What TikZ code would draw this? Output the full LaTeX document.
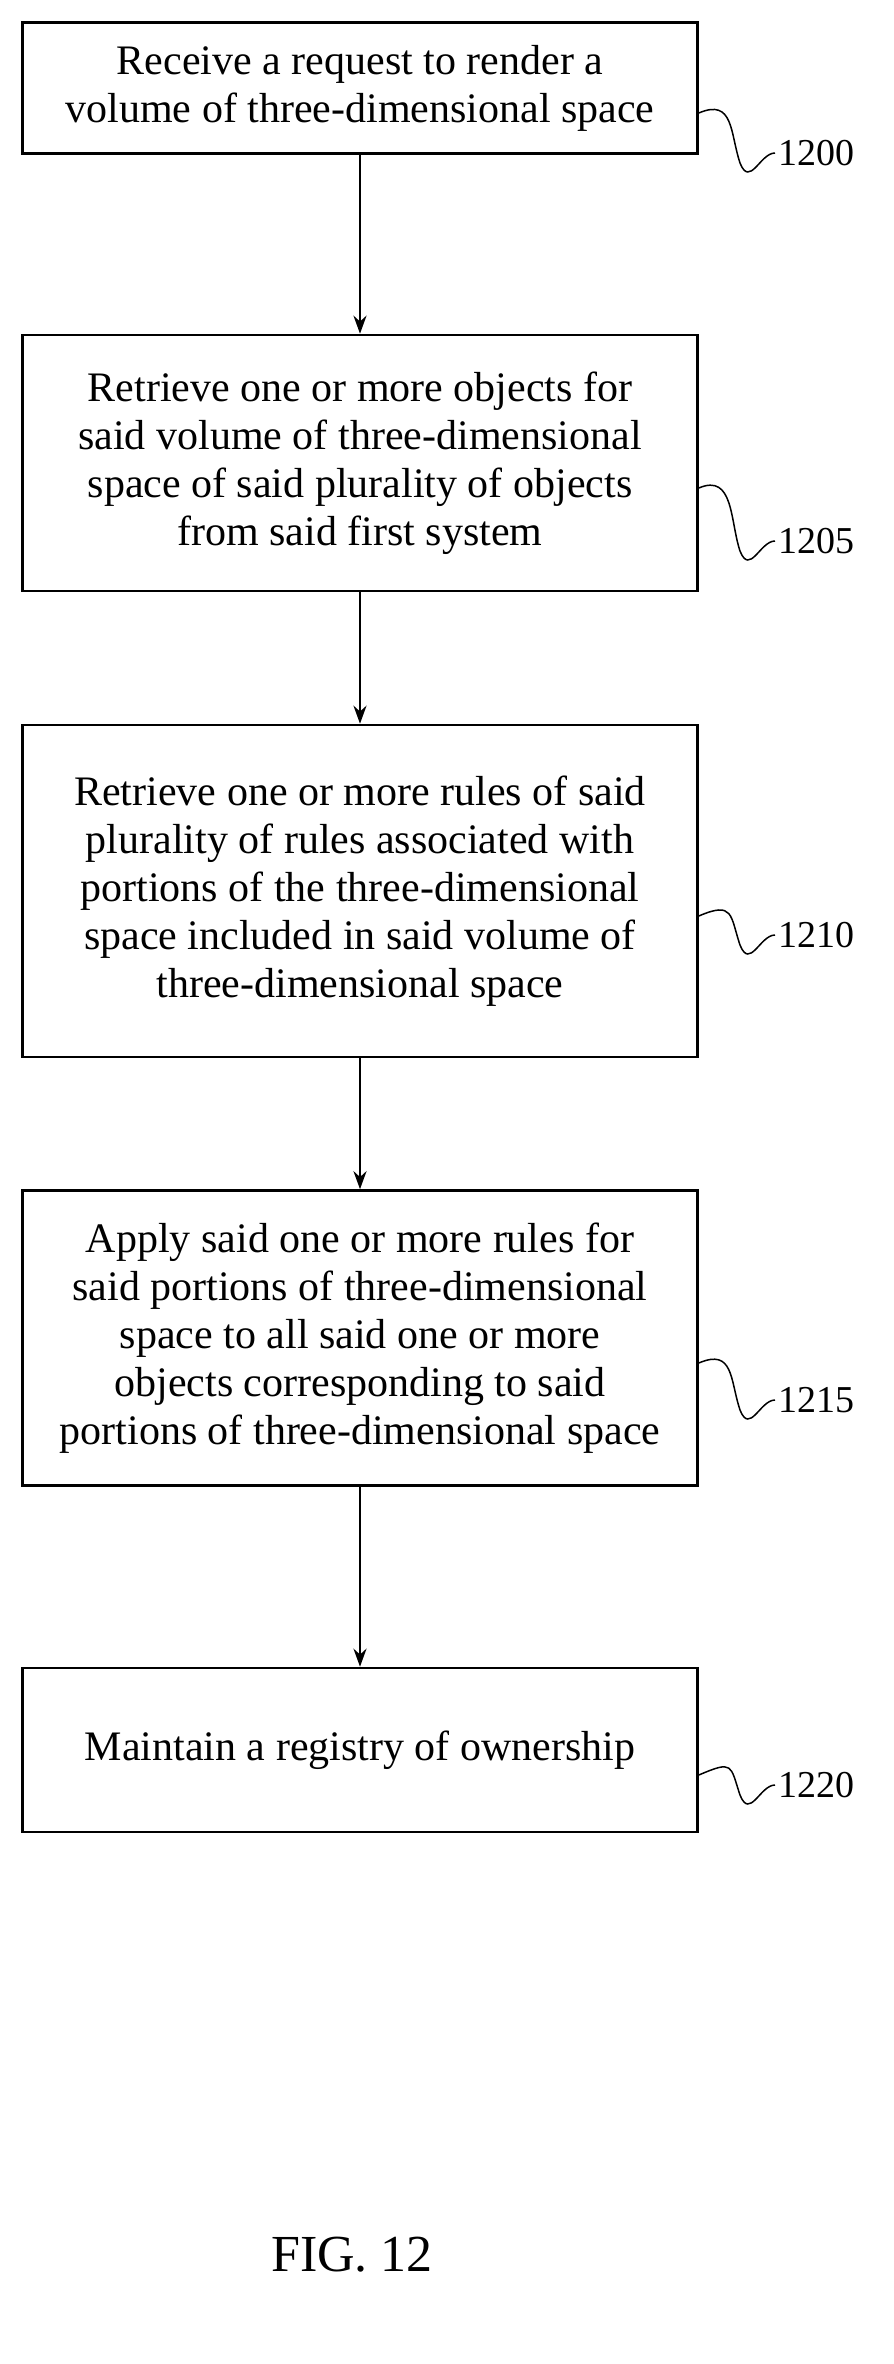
\documentclass[tikz,border=0pt]{standalone}
\usepackage{fontspec}
\setmainfont{Liberation Serif}
\usetikzlibrary{arrows.meta}
\begin{document}
\begin{tikzpicture}[x=1pt,y=-1pt,
  box/.style={draw,line width=2.6pt,minimum width=675pt,align=center,inner sep=0pt,font=\fontsize{42}{48}\selectfont},
  lab/.style={font=\fontsize{38}{40}\selectfont,anchor=west},
  arr/.style={line width=2.6pt,-{Stealth[length=18pt,width=13pt]}},
  sq/.style={line width=1.5pt}]
\useasboundingbox (0,0) rectangle (894,2364);
\node[box,minimum height=131pt] (b1) at (360,88) {Receive a request to render a\\volume of three-dimensional space};
\node[box,minimum height=256pt] (b2) at (360,463) {Retrieve one or more objects for\\said volume of three-dimensional\\space of said plurality of objects\\from said first system};
\node[box,minimum height=332pt] (b3) at (360,891) {Retrieve one or more rules of said\\plurality of rules associated with\\portions of the three-dimensional\\space included in said volume of\\three-dimensional space};
\node[box,minimum height=295pt] (b4) at (360,1338) {Apply said one or more rules for\\said portions of three-dimensional\\space to all said one or more\\objects corresponding to said\\portions of three-dimensional space};
\node[box,minimum height=164pt] (b5) at (360,1750) {Maintain a registry of ownership};
\draw[arr] (b1.south) -- (b2.north);
\draw[arr] (b2.south) -- (b3.north);
\draw[arr] (b3.south) -- (b4.north);
\draw[arr] (b4.south) -- (b5.north);
\foreach \b/\t/\yy in {b1/1200/153,b2/1205/541,b3/1210/935,b4/1215/1400,b5/1220/1785}{
  \node[lab] (l\t) at (775,\yy) {\t};
  \coordinate (s\t) at ([yshift=-25pt]\b.east);
  \draw[sq] (s\t) .. controls +(35,-15) and +(-10,-30) .. ([xshift=-35pt,yshift=-10pt]l\t.west) .. controls +(10,25) and +(-15,0) .. (l\t.west);
}
\node[font=\fontsize{52}{56}\selectfont] (fig) at (352,2255) {FIG. 12};
\end{tikzpicture}
\end{document}
